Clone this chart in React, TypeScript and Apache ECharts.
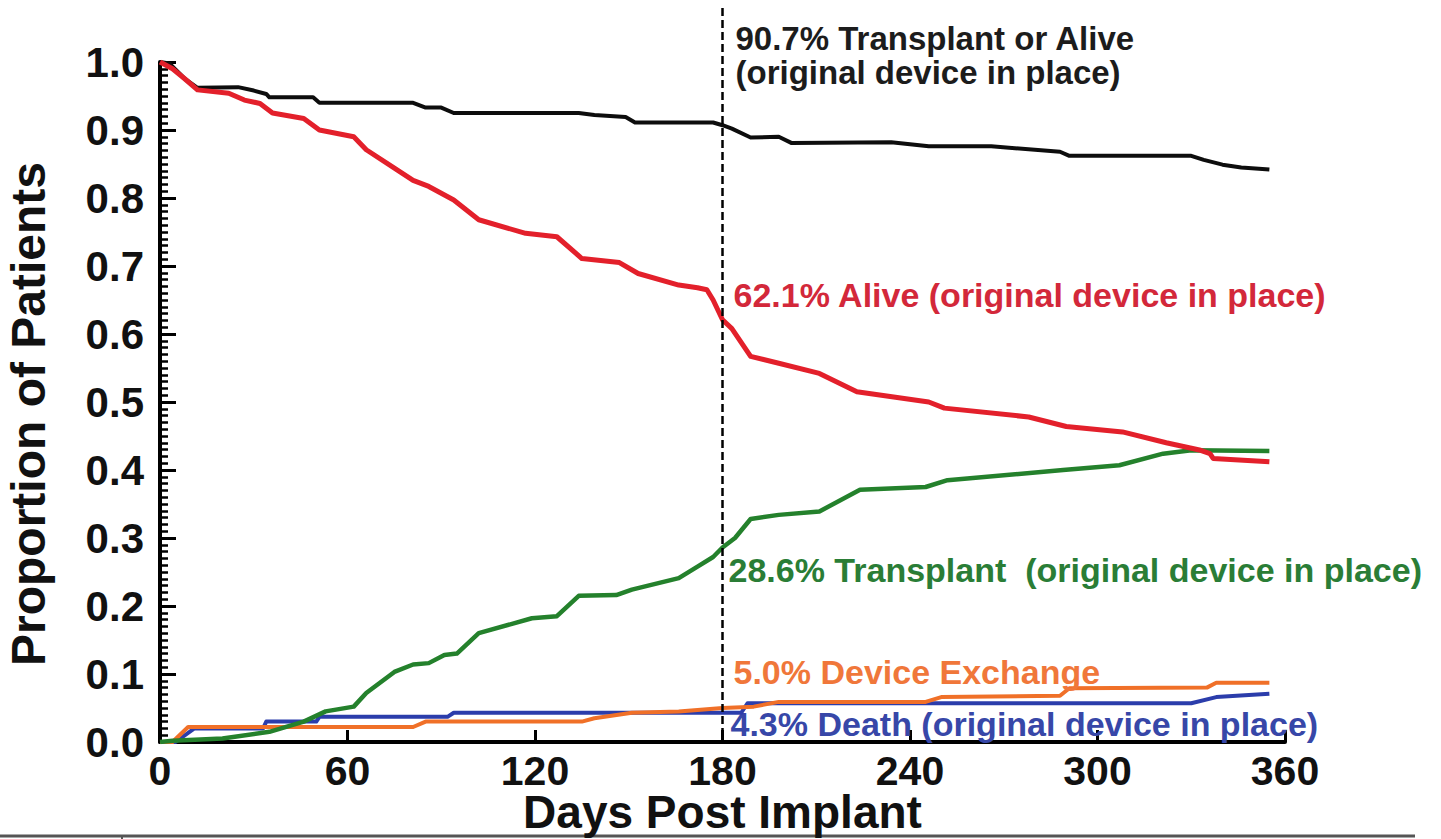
import React, { useEffect, useRef } from "react";
import * as echarts from "echarts";

// Kaplan-Meier style curves, [day, proportion]
const transplantOrAlive: [number, number][] = [
  [0, 1.0], [3, 0.998], [8, 0.975], [12, 0.962], [25, 0.963], [30, 0.958], [34, 0.953],
  [35, 0.948], [49, 0.948], [51, 0.94], [81, 0.94], [85, 0.933], [90, 0.933], [94, 0.925],
  [134, 0.925], [139, 0.922], [149, 0.919], [152, 0.911], [177, 0.911], [180, 0.907],
  [183, 0.902], [189, 0.889], [198, 0.89], [202, 0.881], [234, 0.882], [246, 0.876],
  [266, 0.876], [288, 0.868], [291, 0.862], [330, 0.862], [334, 0.856], [340, 0.849],
  [346, 0.845], [355, 0.842],
];

const aliveOnDevice: [number, number][] = [
  [0, 1.0], [4, 0.99], [8, 0.975], [12, 0.959], [22, 0.954], [27, 0.944], [32, 0.939],
  [36, 0.925], [46, 0.917], [51, 0.9], [62, 0.89], [66, 0.871], [75, 0.844], [81, 0.826],
  [86, 0.817], [94, 0.797], [102, 0.768], [117, 0.748], [127, 0.743], [135, 0.711],
  [147, 0.705], [153, 0.689], [166, 0.672], [172, 0.668], [175, 0.665], [177, 0.65],
  [180, 0.621], [183, 0.608], [189, 0.567], [198, 0.557], [211, 0.542], [223, 0.515],
  [246, 0.5], [251, 0.491], [278, 0.478], [290, 0.464], [308, 0.456], [322, 0.44],
  [333, 0.429], [336, 0.424], [337, 0.417], [355, 0.412],
];

const transplant: [number, number][] = [
  [0, 0], [4, 0.002], [20, 0.005], [35, 0.015], [46, 0.03], [53, 0.045], [62, 0.052],
  [66, 0.072], [75, 0.103], [81, 0.114], [86, 0.116], [91, 0.128], [95, 0.13], [102, 0.16],
  [119, 0.182], [127, 0.185], [134, 0.215], [146, 0.216], [151, 0.224], [166, 0.241],
  [172, 0.258], [177, 0.272], [180, 0.286], [184, 0.3], [189, 0.328], [198, 0.334],
  [211, 0.339], [224, 0.371], [245, 0.375], [252, 0.385], [289, 0.4], [307, 0.407],
  [321, 0.424], [330, 0.429], [355, 0.428],
];

const deviceExchange: [number, number][] = [
  [0, 0], [4, 0], [9, 0.022], [81, 0.022], [85, 0.03], [135, 0.03], [139, 0.035],
  [151, 0.043], [166, 0.045], [180, 0.05], [190, 0.052], [198, 0.059], [245, 0.059],
  [250, 0.066], [288, 0.068], [291, 0.079], [335, 0.08], [338, 0.087], [355, 0.087],
];

const death: [number, number][] = [
  [0, 0], [5, 0], [11, 0.02], [33, 0.02], [34, 0.03], [50, 0.03], [51, 0.037], [92, 0.037],
  [94, 0.043], [186, 0.043], [188, 0.057], [330, 0.057], [338, 0.066], [355, 0.071],
];

const landmarkDay = 180;

const annotationTexts = {
  transplantOrAlive: ["90.7% Transplant or Alive", "(original device in place)"],
  alive: "62.1% Alive (original device in place)",
  transplant: "28.6% Transplant  (original device in place)",
  exchange: "5.0% Device Exchange",
  death: "4.3% Death (original device in place)",
};

const FONT = '"Liberation Sans", Arial, Helvetica, sans-serif';

export default function App() {
  const ref = useRef<HTMLDivElement>(null);

  useEffect(() => {
    if (!ref.current) return;
    const chart = echarts.init(ref.current, undefined, { renderer: "svg" });

    const line = (name: string, data: [number, number][], color: string, width: number, z: number) => ({
      name,
      type: "line",
      data,
      symbol: "none",
      showSymbol: false,
      lineStyle: { color, width, join: "round" },
      z,
    });

    chart.setOption({
      animation: false,
      backgroundColor: "#ffffff",
      grid: { left: 160, right: 156, top: 62, bottom: 97, containLabel: false, outerBoundsMode: "none" },
      xAxis: {
        type: "value",
        min: 0,
        max: 360,
        interval: 60,
        name: "Days Post Implant",
        nameLocation: "middle",
        nameGap: 47,
        nameMoveOverlap: false,
        nameTextStyle: { fontFamily: FONT, fontWeight: "bold", fontSize: 46, color: "#111" },
        axisLine: { show: true, onZero: false, lineStyle: { color: "#000", width: 4 } },
        axisTick: { show: true, inside: true, length: 12, lineStyle: { color: "#000", width: 3 } },
        axisLabel: { fontFamily: FONT, fontWeight: "bold", fontSize: 41, color: "#111", margin: 8 },
        splitLine: { show: false },
      },
      yAxis: {
        type: "value",
        min: 0,
        max: 1,
        interval: 0.1,
        name: "Proportion of Patients",
        nameLocation: "middle",
        nameRotate: 90,
        nameGap: 108,
        nameMoveOverlap: false,
        nameTextStyle: {
          fontFamily: FONT,
          fontWeight: "bold",
          fontSize: 48,
          color: "#111",
          padding: [0, 24, 0, 0],
        },
        axisLine: { show: true, onZero: false, lineStyle: { color: "#000", width: 4 } },
        axisTick: { show: true, inside: true, length: 16, lineStyle: { color: "#000", width: 3 } },
        minorTick: { show: true, splitNumber: 10, length: 8, lineStyle: { color: "#000", width: 2.5 } },
        axisLabel: {
          fontFamily: FONT,
          fontWeight: "bold",
          fontSize: 42,
          color: "#111",
          margin: 16,
          formatter: (v: number) => v.toFixed(1),
        },
        splitLine: { show: false },
        minorSplitLine: { show: false },
      },
      series: [
        line("Death", death, "#2b3dab", 4, 2),
        line("Device Exchange", deviceExchange, "#f07028", 4, 3),
        line("Transplant", transplant, "#24812c", 4.5, 4),
        line("Transplant or Alive", transplantOrAlive, "#0d0d0d", 4, 5),
        line("Alive", aliveOnDevice, "#e3202b", 5, 6),
      ],
    });

    // landmark line and annotations placed from the day-180 position on the axis
    const lx = chart.convertToPixel({ xAxisIndex: 0 }, landmarkDay) as number;
    const y0 = chart.convertToPixel({ yAxisIndex: 0 }, 0) as number;
    const textStyle = (text: string, fill: string, size = 34) => ({
      text,
      fill,
      fontFamily: FONT,
      fontWeight: "bold",
      fontSize: size,
      verticalAlign: "middle",
      align: "left",
    });

    chart.setOption({
      graphic: [
        {
          type: "line",
          shape: { x1: lx, y1: 8, x2: lx, y2: y0 },
          style: { stroke: "#000", lineWidth: 2.5, lineDash: [8, 4] },
          z: 10,
        },
        { type: "text", x: lx + 13, y: 38, style: textStyle(annotationTexts.transplantOrAlive[0], "#1c1c1c", 33), z: 10 },
        { type: "text", x: lx + 13, y: 72, style: textStyle(annotationTexts.transplantOrAlive[1], "#1c1c1c", 33), z: 10 },
        { type: "text", x: lx + 11, y: 295, style: textStyle(annotationTexts.alive, "#d3283a"), z: 10 },
        { type: "text", x: lx + 6, y: 570, style: textStyle(annotationTexts.transplant, "#2a7d36"), z: 10 },
        { type: "text", x: lx + 11, y: 672, style: textStyle(annotationTexts.exchange, "#f0773a"), z: 10 },
        { type: "text", x: lx + 8, y: 724, style: textStyle(annotationTexts.death, "#3747a8"), z: 1 },
        // table rule beneath the figure
        {
          type: "line",
          shape: { x1: 0, y1: 836, x2: 1415, y2: 836 },
          style: { stroke: "#555", lineWidth: 3 },
        },
        {
          type: "line",
          shape: { x1: 122, y1: 836, x2: 122, y2: 839 },
          style: { stroke: "#555", lineWidth: 2 },
        },
      ],
    });

    return () => chart.dispose();
  }, []);

  return (
    <div
      ref={ref}
      style={{ position: "fixed", left: 0, top: 0, width: 1441, height: 839, background: "#fff" }}
    />
  );
}
